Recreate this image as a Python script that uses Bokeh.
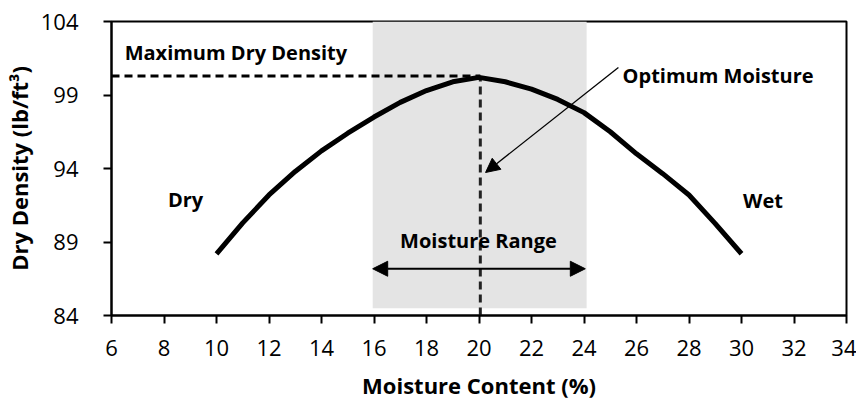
from bokeh.plotting import figure
from bokeh.models import Arrow, NormalHead, FixedTicker, Range1d
from bokeh.core.properties import value
from bokeh.embed import file_html
from bokeh.resources import INLINE

# ---- data ----
moisture = [10, 11, 12, 13, 14, 15, 16, 17, 18, 19, 20, 21, 22, 23, 24, 25, 26, 27, 28, 29, 30]
density = [88.2, 90.3, 92.2, 93.8, 95.2, 96.4, 97.5, 98.5, 99.3, 99.9, 100.2, 99.9, 99.4, 98.7,
           97.8, 96.5, 95.0, 93.65, 92.2, 90.25, 88.2]

x_ticks = [6, 8, 10, 12, 14, 16, 18, 20, 22, 24, 26, 28, 30, 32, 34]
y_ticks = [84, 89, 94, 99, 104]

range_left = [15.95]
range_right = [24.1]
band_bottom = [84.5]
band_top = [104]

max_density = 100.3
optimum_moisture = 20.05

x_title = "Moisture Content (%)"
y_title = "Dry Density (lb/ft³)"

FONT = "Open Sans"

p = figure(width=856, height=402, x_range=Range1d(6, 34), y_range=Range1d(84, 104),
           output_backend="svg", toolbar_location=None,
           min_border_left=111, min_border_right=10, min_border_top=21, min_border_bottom=87)
p.background_fill_color = "white"
p.border_fill_color = "white"
p.outline_line_color = "black"
p.outline_line_width = 2
p.xgrid.visible = False
p.ygrid.visible = False

# shaded moisture range
p.quad(left=range_left, right=range_right, bottom=band_bottom, top=band_top,
       fill_color="#e4e4e4", line_color=None)

# dashed guide lines
p.line(x=[6, optimum_moisture], y=[max_density, max_density], line_color="black",
       line_width=3, line_dash="8 5")
p.line(x=[optimum_moisture, optimum_moisture], y=[84, max_density], line_color="#222222",
       line_width=3, line_dash="8 5")

# compaction curve
p.line(x=moisture, y=density, line_color="black", line_width=5, line_join="round")

# arrows
p.add_layout(Arrow(end=NormalHead(size=14, fill_color="black", line_color="black"),
                   x_start=25.31, y_start=100.87, x_end=20.25, y_end=93.73,
                   line_color="black", line_width=1.3))
p.add_layout(Arrow(start=NormalHead(size=15, fill_color="black", line_color="black"),
                   end=NormalHead(size=15, fill_color="black", line_color="black"),
                   x_start=range_left[0], y_start=87.18, x_end=24.05, y_end=87.18,
                   line_color="black", line_width=2))

# labels
common = dict(text_font=value(FONT), text_font_style="bold", text_color="black",
              text_font_size="20px", text_baseline="middle")
p.text(x=[6.5], y=[101.9], text=["Maximum Dry Density"], text_align="left", **common)
p.text(x=[25.47], y=[100.3], text=["Optimum Moisture"], text_align="left", **common)
p.text(x=[8.82], y=[91.9], text=["Dry"], text_align="center", **common)
p.text(x=[30.82], y=[91.8], text=["Wet"], text_align="center", **common)
p.text(x=[19.98], y=[89.1], text=["Moisture Range"], text_align="center", **common)

# axes
for ax in (p.xaxis[0], p.yaxis[0]):
    ax.axis_line_width = 2
    ax.axis_line_color = "black"
    ax.major_tick_line_width = 2
    ax.major_tick_line_color = "black"
    ax.major_tick_out = 8
    ax.major_tick_in = 0
    ax.minor_tick_line_color = None
    ax.major_label_text_font = FONT
    ax.major_label_text_font_size = "22px"
    ax.major_label_text_color = "black"
    ax.axis_label_text_font = FONT
    ax.axis_label_text_font_size = "22px"
    ax.axis_label_text_font_style = "bold"
    ax.axis_label_text_color = "black"

p.xaxis.ticker = FixedTicker(ticks=x_ticks)
p.yaxis.ticker = FixedTicker(ticks=y_ticks)
p.xaxis.axis_label = x_title
p.yaxis.axis_label = y_title
p.xaxis.major_label_standoff = 16
p.yaxis.major_label_standoff = 25
p.xaxis.axis_label_standoff = 11
p.yaxis.axis_label_standoff = 4

open("out.html", "w").write(file_html(p, INLINE))
